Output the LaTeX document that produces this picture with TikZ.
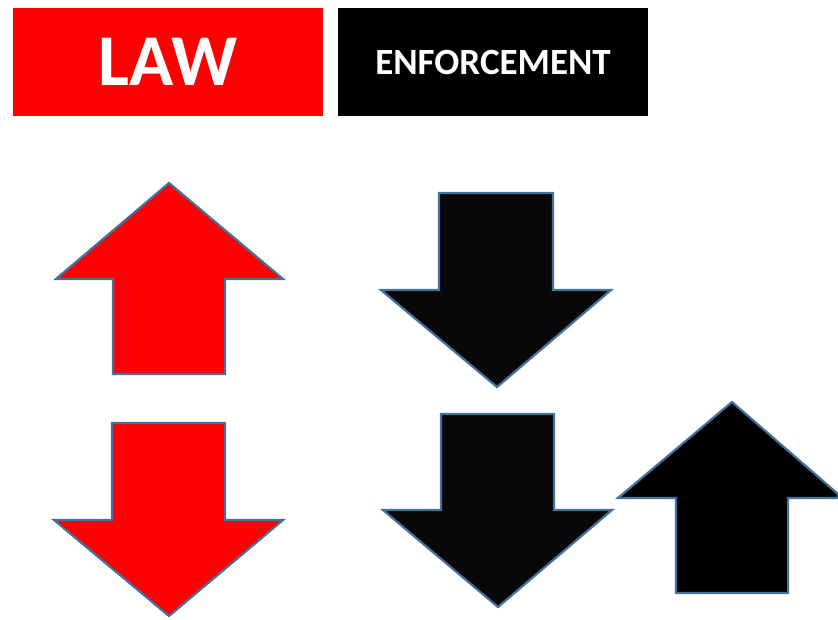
\documentclass[tikz,border=0pt]{standalone}
\usepackage{fontspec}
\setmainfont{Carlito}
\definecolor{lawred}{HTML}{FF0000}
\definecolor{enfblack}{HTML}{000000}
\definecolor{arrblack}{HTML}{080808}
\definecolor{edgeblue}{HTML}{41719C}
\tikzset{
  titlebox/.style={minimum width=310pt, minimum height=108pt, inner sep=0pt, text=white, font=\bfseries},
  bigarrow/.style={draw=edgeblue, line width=2.2pt, line join=miter},
}
\begin{document}
\begin{tikzpicture}[x=1pt,y=-1pt]
\useasboundingbox (0,0) rectangle (838,619);
\node[titlebox, fill=lawred] (law) at (168,62) {\fontsize{73}{73}\selectfont LAW};
\node[titlebox, fill=enfblack] (enf) at (493,62) {\fontsize{37}{37}\selectfont ENFORCEMENT};
% red up arrow
\draw[bigarrow, fill=lawred] (169,183) -- (283,279) -- (225,279) -- (225,374) -- (113,374) -- (113,279) -- (56,279) -- cycle;
% red down arrow
\draw[bigarrow, fill=lawred] (112,423) -- (225,423) -- (225,520) -- (283,520) -- (169,616) -- (54,520) -- (112,520) -- cycle;
% black down arrow 1
\draw[bigarrow, fill=arrblack] (439,193) -- (553,193) -- (553,290) -- (611,290) -- (497,387) -- (381,290) -- (439,290) -- cycle;
% black down arrow 2
\draw[bigarrow, fill=arrblack] (441,414) -- (554,414) -- (554,510) -- (612,510) -- (498,607) -- (383,510) -- (441,510) -- cycle;
% black up arrow
\draw[bigarrow, fill=black] (732,402) -- (838,494) -- (838,498) -- (788,498) -- (788,593) -- (676,593) -- (676,498) -- (618,498) -- cycle;
\end{tikzpicture}
\end{document}
